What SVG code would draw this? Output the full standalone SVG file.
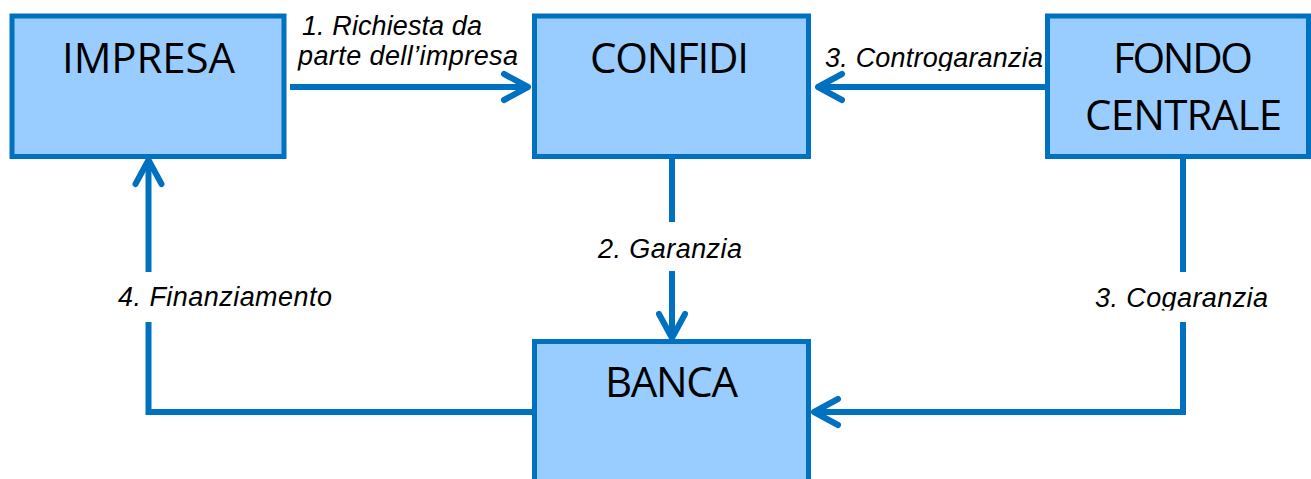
<svg xmlns="http://www.w3.org/2000/svg" width="1311" height="479" viewBox="0 0 1311 479">
<style>
.box{fill:#99CCFF;stroke:#0070C0;stroke-width:5}
.nl{font-family:"Open Sans","Noto Sans",sans-serif;font-size:42px;fill:#000}
.lbl{font-family:"Liberation Sans",Arial,sans-serif;font-size:27px;font-style:italic;fill:#000}
.con{fill:none;stroke:#0070C0;stroke-width:6;stroke-linecap:butt;stroke-linejoin:miter}
</style>
<defs>
<marker id="ah" markerUnits="userSpaceOnUse" orient="auto" markerWidth="40" markerHeight="40" refX="30" refY="20" overflow="visible">
<path d="M6,7 L30,20 L6,33" fill="none" stroke="#0070C0" stroke-width="6" stroke-linecap="round" stroke-linejoin="round"/>
</marker>
<clipPath id="c1"><rect x="280" y="40" width="260" height="30.5"/></clipPath>
<clipPath id="c2"><rect x="815" y="40" width="240" height="31"/></clipPath>
<clipPath id="c3"><rect x="1085" y="280" width="200" height="30.5"/></clipPath>
</defs>
<rect width="1311" height="479" fill="#fff"/>
<g id="connectors">
<path class="con" d="M290,87 H528" marker-end="url(#ah)"/>
<path class="con" d="M1045,87 H818" marker-end="url(#ah)"/>
<path class="con" d="M672,159 V222"/>
<path class="con" d="M672,271 V338" marker-end="url(#ah)"/>
<path class="con" d="M532,412 H148.5 V322"/>
<path class="con" d="M148.5,272 V160" marker-end="url(#ah)"/>
<path class="con" d="M1183,159 V272"/>
<path class="con" d="M1183,322 V412 H814" marker-end="url(#ah)"/>
</g>
<g id="labels">
<text class="lbl" x="302" y="35" textLength="180">1. Richiesta da</text>
<text class="lbl" x="298" y="65" textLength="220" clip-path="url(#c1)">parte dell’impresa</text>
<text class="lbl" x="825" y="67" textLength="218" clip-path="url(#c2)">3. Controgaranzia</text>
<text class="lbl" x="598" y="258" textLength="144">2. Garanzia</text>
<text class="lbl" x="118" y="306" textLength="214">4. Finanziamento</text>
<text class="lbl" x="1095" y="307" textLength="173" clip-path="url(#c3)">3. Cogaranzia</text>
</g>
<g id="impresa">
<rect class="box" x="12" y="16" width="272" height="140.5"/>
<text class="nl" x="62" y="73" textLength="173">IMPRESA</text>
</g>
<g id="confidi">
<rect class="box" x="534.5" y="16" width="274" height="140.5"/>
<text class="nl" x="590" y="73" textLength="159">CONFIDI</text>
</g>
<g id="fondo-centrale">
<rect class="box" x="1047.5" y="16" width="261" height="140.5"/>
<text class="nl" x="1113" y="73" textLength="140">FONDO</text>
<text class="nl" x="1085" y="130" textLength="197">CENTRALE</text>
</g>
<g id="banca">
<rect class="box" x="534.5" y="341.5" width="274" height="160"/>
<text class="nl" x="605" y="397" textLength="133">BANCA</text>
</g>
</svg>
